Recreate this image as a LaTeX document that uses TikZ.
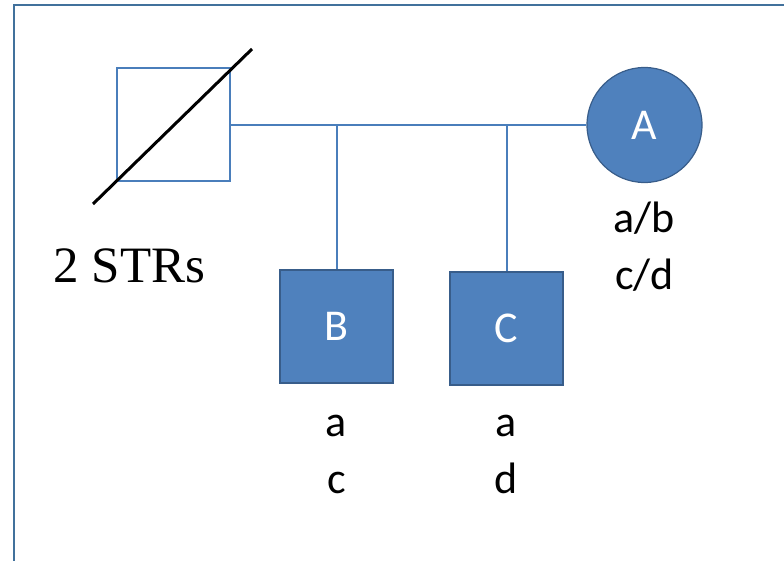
\documentclass[tikz,border=0pt]{standalone}
\usepackage{fontspec}
\setmainfont{Liberation Serif}
\newfontfamily\calfont{Carlito}
\usetikzlibrary{positioning}
\definecolor{pedfill}{HTML}{4F81BD}
\definecolor{peddraw}{HTML}{385D8A}
\definecolor{pedline}{HTML}{4A7EBB}
\definecolor{framecol}{HTML}{41719C}
\tikzset{male/.style={rectangle,minimum size=113pt,inner sep=0pt,line width=2pt}}
\tikzset{female/.style={circle,minimum size=115pt,inner sep=0pt,line width=1.2pt}}
\tikzset{affected/.style={fill=pedfill,draw=peddraw,text=white,font=\calfont\fontsize{44}{50}\selectfont}}
\tikzset{link/.style={draw=pedline,line width=2pt}}
\tikzset{geno/.style={align=center,inner sep=0pt,font=\calfont\fontsize{44}{57}\selectfont}}

\begin{document}
\begin{tikzpicture}[x=1pt,y=-1pt]
  \useasboundingbox (0,0) rectangle (784,561);
  % frame
  \draw[framecol,line width=2pt] (14,561) -- (14,5) -- (784,5);

  % parents
  \node[male,draw=pedline] (f) at (173.5,125) {};
  \node[female,affected] (m) at (644.5,125) {A};
  \draw[link] (f.east) -- (m.west);

  % deceased father
  \coordinate (d1) at (93,204);
  \coordinate (d2) at (252,49);
  \draw[line width=3pt] (d1) -- (d2);
  \node[font=\fontsize{51}{56}\selectfont,anchor=base west] (strs) at (50,283) {2 STRs};

  % children
  \node[male,affected,line width=1.2pt] (b) at (336.5,326.5) {B};
  \node[male,affected,line width=1.2pt] (c) at (506.5,328.5) {C};
  \coordinate (jb) at (b |- f.east);
  \coordinate (jc) at (c |- f.east);
  \draw[link] (jb) -- (b.north);
  \draw[link] (jc) -- (c.north);

  % genotypes
  \node[geno,below=19pt of m] (gm) {a/b\\c/d};
  \node[geno,below=31pt of b] (gb) {a\\c};
  \node[geno,below=29pt of c] (gc) {a\\d};
\end{tikzpicture}
\end{document}
